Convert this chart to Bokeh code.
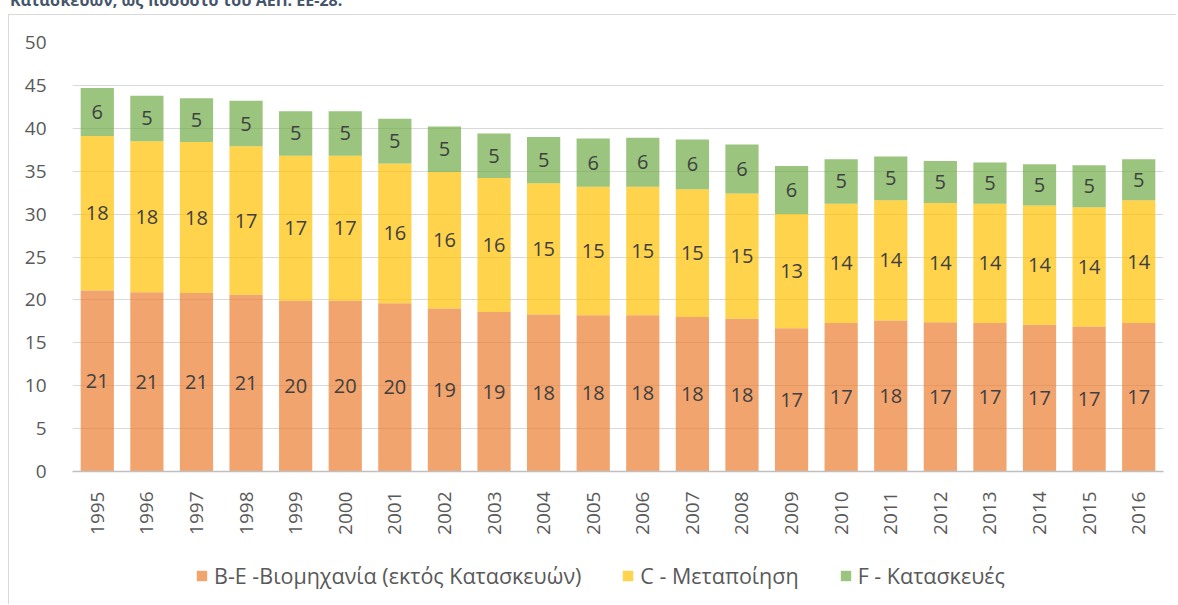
import math
from bokeh.plotting import figure
from bokeh.models import (ColumnDataSource, FactorRange, Range1d, FixedTicker,
                          Legend, LegendItem, LabelSet, Div)
from bokeh.layouts import column
from bokeh.core.properties import value
from bokeh.embed import file_html
from bokeh.resources import INLINE

# ---- data ----
years = ["1995", "1996", "1997", "1998", "1999", "2000", "2001", "2002", "2003",
         "2004", "2005", "2006", "2007", "2008", "2009", "2010", "2011", "2012",
         "2013", "2014", "2015", "2016"]
industry = [21.1, 20.9, 20.8, 20.6, 19.9, 19.9, 19.6, 19.0, 18.6, 18.3, 18.2,
            18.2, 18.0, 17.8, 16.7, 17.3, 17.6, 17.4, 17.3, 17.1, 16.9, 17.3]
manufacturing = [18.0, 17.6, 17.6, 17.3, 16.9, 16.9, 16.3, 15.9, 15.6, 15.3, 15.0,
                 15.0, 14.9, 14.6, 13.3, 13.9, 14.0, 13.9, 13.9, 13.9, 13.9, 14.3]
construction = [5.6, 5.3, 5.1, 5.3, 5.2, 5.2, 5.2, 5.3, 5.2, 5.4, 5.6,
                5.7, 5.8, 5.7, 5.6, 5.2, 5.1, 4.9, 4.8, 4.8, 4.9, 4.8]
series_names = ["B-E -Βιομηχανία (εκτός Κατασκευών)", "C - Μεταποίηση", "F - Κατασκευές"]
y_ticks = [0, 5, 10, 15, 20, 25, 30, 35, 40, 45, 50]
title_text = "Κατασκευών, ως ποσοστό του ΑΕΠ. ΕΕ-28."

colors = ["#ED7D31", "#FFC000", "#70AD47"]
FONT = "Open Sans"
BORDER = "1px solid #D9D9D9"

src = ColumnDataSource(dict(year=years, ind=industry, man=manufacturing, con=construction))

p = figure(x_range=FactorRange(*years), y_range=Range1d(0, 50),
           width=1168, height=526, output_backend="svg", toolbar_location=None,
           min_border_left=63, min_border_right=14, min_border_top=27, min_border_bottom=70,
           margin=(0, 0, 0, 8),
           styles={"border-left": BORDER, "border-top": BORDER})
p.outline_line_color = None
p.x_range.range_padding = 0

rs = p.vbar_stack(["ind", "man", "con"], x="year", width=0.67, source=src,
                  color=colors, fill_alpha=0.7, line_color=None)

# data labels at middle of each segment
bottoms = [0.0] * len(years)
for vals in (industry, manufacturing, construction):
    mids = [b + v / 2 for b, v in zip(bottoms, vals)]
    lab = ColumnDataSource(dict(x=years, y=mids, t=[f"{v:.0f}" for v in vals]))
    p.add_layout(LabelSet(x="x", y="y", text="t", source=lab,
                          text_align="center", text_baseline="middle",
                          text_font=value(FONT), text_font_size=value("20px"),
                          text_color="#404040"))
    bottoms = [b + v for b, v in zip(bottoms, vals)]

# axes
p.yaxis.ticker = FixedTicker(ticks=y_ticks)
p.yaxis.axis_line_color = None
p.yaxis.major_tick_line_color = None
p.yaxis.minor_tick_line_color = None
p.yaxis.major_label_text_font = FONT
p.yaxis.major_label_text_font_size = "19px"
p.yaxis.major_label_text_color = "#595959"
p.yaxis.major_label_standoff = 20

p.xaxis.axis_line_color = "#BFBFBF"
p.xaxis.axis_line_width = 1.5
p.xaxis.major_tick_line_color = None
p.xaxis.minor_tick_line_color = None
p.xaxis.major_label_orientation = math.pi / 2
p.xaxis.major_label_text_font = FONT
p.xaxis.major_label_text_font_size = "19px"
p.xaxis.major_label_text_color = "#595959"
p.xaxis.major_label_standoff = 14

p.xgrid.grid_line_color = None
p.ygrid.grid_line_color = "#D9D9D9"
p.ygrid.grid_line_width = 1

# legend strip below the chart (its own swatch renderers sit outside the visible range)
pl = figure(width=1168, height=64, output_backend="svg", toolbar_location=None,
            x_axis_type=None, y_axis_type=None, min_border=0,
            x_range=Range1d(0, 1), y_range=Range1d(0, 1),
            margin=(0, 0, 0, 8), styles={"border-left": BORDER})
pl.outline_line_color = None
pl.xgrid.grid_line_color = None
pl.ygrid.grid_line_color = None
leg_rs = [pl.vbar(x=[-5], top=[-5], width=0.5, color=c, fill_alpha=0.7, line_color=None)
          for c in colors]
legend = Legend(items=[LegendItem(label=n, renderers=[r]) for n, r in zip(series_names, leg_rs)],
                orientation="horizontal", location=(123, 14),
                label_text_font=FONT, label_text_font_size="21.5px", label_text_color="#595959",
                glyph_width=13, glyph_height=13, label_standoff=6, spacing=40,
                padding=6, margin=0, border_line_color=None, background_fill_alpha=0)
pl.add_layout(legend, "center")

title = Div(text=title_text, width=700, height=25, margin=(-11, 0, 0, 10),
            styles={"font-family": "Open Sans", "font-weight": "bold", "font-size": "16px",
                    "color": "#44546A", "white-space": "nowrap"})

layout = column(title, p, pl, spacing=0)

open("out.html", "w").write(file_html(layout, INLINE))
